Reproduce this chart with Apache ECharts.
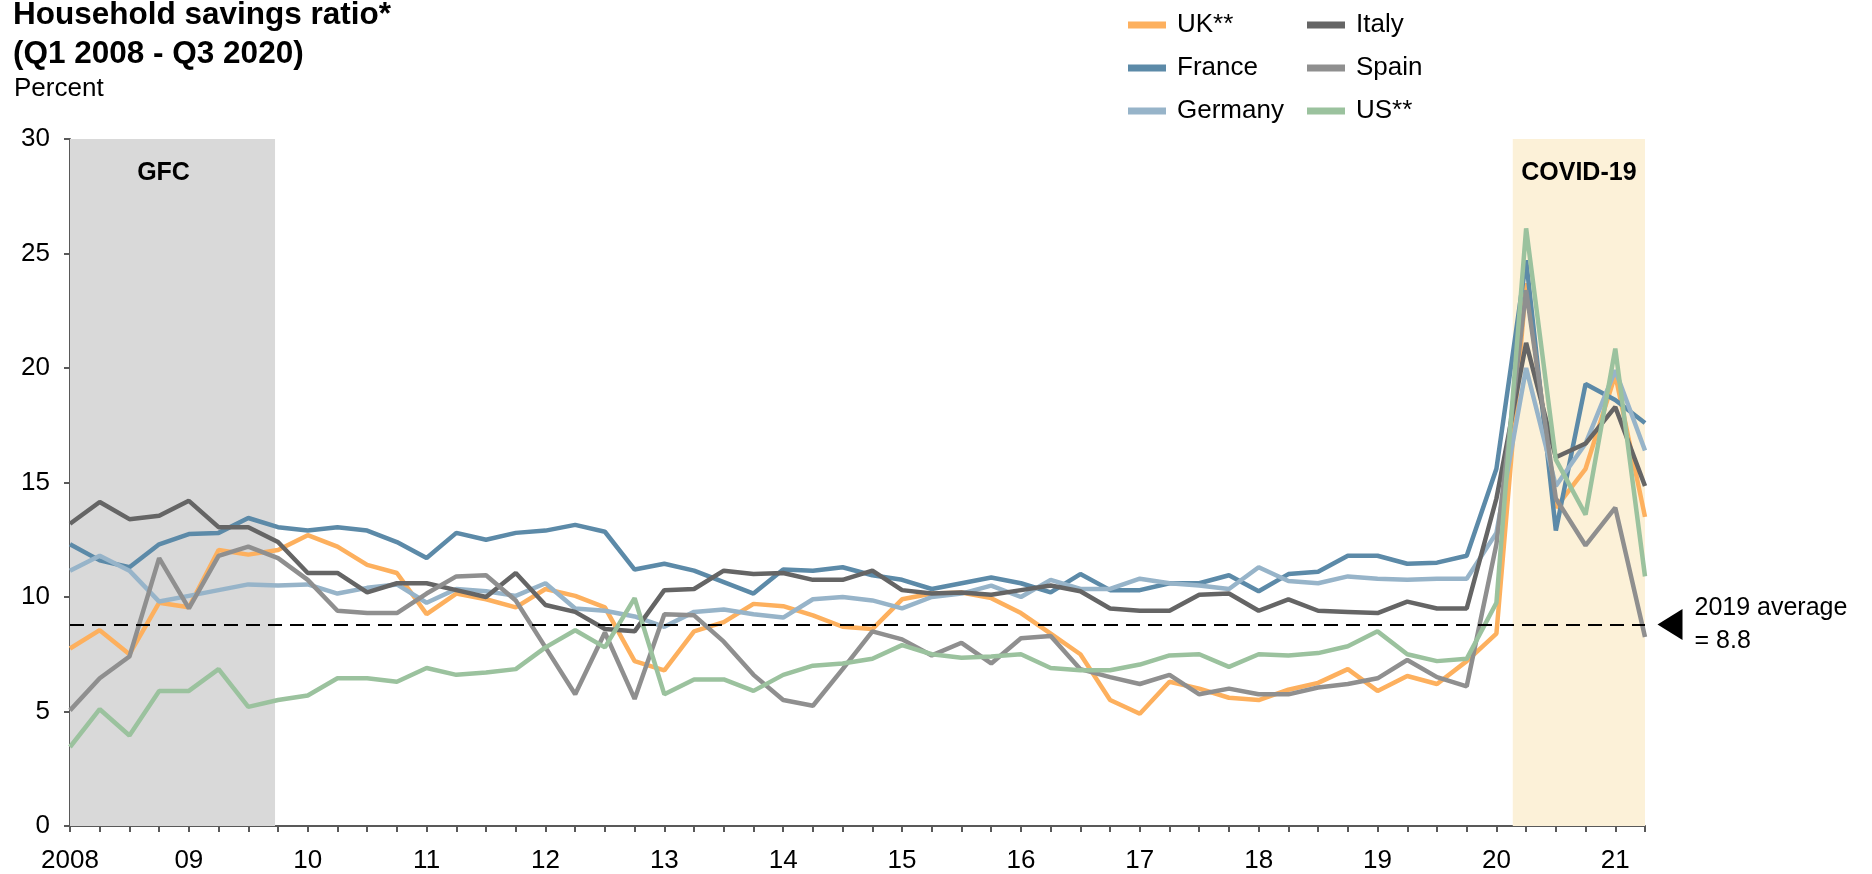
<!DOCTYPE html>
<html>
<head>
<meta charset="utf-8">
<script src="https://cdn.jsdelivr.net/npm/echarts@6/dist/echarts.min.js"></script>
<style>
  html, body { margin: 0; padding: 0; background: #fff; }
  #chart { width: 1872px; height: 874px; }
</style>
</head>
<body>
<div id="chart"></div>
<script>
// quarterly, Q1 2008 .. Q2 2021 (54 quarters)
const yearLabels = ['2008', '09', '10', '11', '12', '13', '14', '15', '16', '17', '18', '19', '20', '21'];

const uk = [7.75, 8.55, 7.5, 9.75, 9.55, 12.05, 11.85, 12.05, 12.7, 12.2, 11.4, 11.05, 9.25, 10.15, 9.9,
  9.55, 10.35, 10.05, 9.55, 7.2, 6.8, 8.5, 8.9, 9.7, 9.6, 9.2, 8.7, 8.6, 9.9, 10.15, 10.2, 9.95, 9.3,
  8.4, 7.5, 5.5, 4.9, 6.3, 6.0, 5.6, 5.5, 5.95, 6.25, 6.85, 5.9, 6.55, 6.2, 7.2, 8.4, 23.7, 13.9, 15.6, 19.7, 13.5];
const france = [12.3, 11.6, 11.3, 12.3, 12.75, 12.8, 13.45, 13.05, 12.9, 13.05, 12.9, 12.4, 11.7, 12.8, 12.5,
  12.8, 12.9, 13.15, 12.85, 11.2, 11.45, 11.15, 10.65, 10.15, 11.2, 11.15, 11.3, 10.95, 10.75, 10.35, 10.6,
  10.85, 10.6, 10.2, 11.0, 10.3, 10.3, 10.6, 10.6, 10.95, 10.25, 11.0, 11.1, 11.8, 11.8, 11.45, 11.5, 11.8,
  15.6, 24.7, 12.9, 19.3, 18.6, 17.6];
const germany = [11.15, 11.8, 11.15, 9.8, 10.05, 10.3, 10.55, 10.5, 10.55, 10.15, 10.4, 10.55, 9.75, 10.35, 10.25,
  10.05, 10.6, 9.5, 9.4, 9.15, 8.7, 9.35, 9.45, 9.25, 9.1, 9.9, 10.0, 9.85, 9.5, 10.0, 10.15, 10.5, 10.0,
  10.75, 10.35, 10.35, 10.8, 10.6, 10.5, 10.35, 11.3, 10.7, 10.6, 10.9, 10.8, 10.75, 10.8, 10.8, 12.8, 20.0,
  14.85, 16.7, 19.9, 16.4];
const italy = [13.2, 14.15, 13.4, 13.55, 14.2, 13.05, 13.05, 12.4, 11.05, 11.05, 10.2, 10.6, 10.6, 10.3, 10.0,
  11.05, 9.65, 9.35, 8.6, 8.5, 10.3, 10.35, 11.15, 11.0, 11.05, 10.75, 10.75, 11.15, 10.3, 10.15, 10.2, 10.1,
  10.3, 10.5, 10.25, 9.5, 9.4, 9.4, 10.1, 10.15, 9.4, 9.9, 9.4, 9.35, 9.3, 9.8, 9.5, 9.5, 14.3, 21.1, 16.1,
  16.7, 18.3, 14.85];
const spain = [5.05, 6.45, 7.4, 11.7, 9.5, 11.8, 12.2, 11.7, 10.75, 9.4, 9.3, 9.3, 10.15, 10.9, 10.95,
  9.85, 7.8, 5.75, 8.45, 5.55, 9.25, 9.2, 8.05, 6.6, 5.5, 5.25, 6.85, 8.5, 8.15, 7.45, 8.0, 7.1, 8.2, 8.3,
  6.85, 6.5, 6.2, 6.6, 5.75, 6.0, 5.75, 5.75, 6.05, 6.2, 6.45, 7.25, 6.5, 6.1, 12.3, 23.4, 14.3, 12.25, 13.9, 8.25];
const us = [3.45, 5.1, 3.95, 5.9, 5.9, 6.85, 5.2, 5.5, 5.7, 6.45, 6.45, 6.3, 6.9, 6.6, 6.7,
  6.85, 7.8, 8.55, 7.8, 9.95, 5.75, 6.4, 6.4, 5.9, 6.6, 7.0, 7.1, 7.3, 7.9, 7.5, 7.35, 7.4, 7.5, 6.9, 6.8,
  6.8, 7.05, 7.45, 7.5, 6.95, 7.5, 7.45, 7.55, 7.85, 8.5, 7.5, 7.2, 7.3, 9.75, 26.1, 16.0, 13.6, 20.85, 10.9];

const avg2019 = 8.8;
const gfcRange = [0, 6.9];       // shaded periods, in quarters from Q1 2008
const covidRange = [48.55, 53];

const names = ['UK**', 'France', 'Germany', 'Italy', 'Spain', 'US**'];
const colors = ['#FDB05E', '#5C8AA8', '#97B4C9', '#656565', '#8F8F8F', '#9BC29E'];
const values = [uk, france, germany, italy, spain, us];

const font = 'Liberation Sans, Arial, Helvetica, sans-serif';
const axisColor = '#595959';

let chart = echarts.init(document.getElementById('chart'));

let series = values.map((vals, k) => ({
  name: names[k],
  type: 'line',
  data: vals.map((v, i) => [i, v]),
  symbol: 'none',
  lineStyle: { width: 4.5, color: colors[k] },
  itemStyle: { color: colors[k] }
}));

// shading, average line and its note hang off the first series
series[0].markArea = {
  silent: true,
  label: { position: 'insideTop', distance: 22, color: '#000', fontSize: 25, fontWeight: 'bold', fontFamily: font },
  data: [
    [{ xAxis: gfcRange[0], name: 'GFC', itemStyle: { color: '#D9D9D9' }, label: { offset: [-9, 0] } }, { xAxis: gfcRange[1] }],
    [{ xAxis: covidRange[0], name: 'COVID-19', itemStyle: { color: '#FCF1D8' } }, { xAxis: covidRange[1] }]
  ]
};
series[0].markLine = {
  silent: true,
  symbol: 'none',
  label: { show: false },
  lineStyle: { color: '#000', width: 2, type: [14, 8] },
  data: [{ yAxis: avg2019 }]
};
series[0].markPoint = {
  silent: true,
  data: [{
    coord: [53, avg2019],
    symbol: 'path://M0,5 L10,0 L10,10 Z',
    symbolSize: [25, 31],
    symbolKeepAspect: false,
    symbolOffset: [25, 0],
    itemStyle: { color: '#000' },
    label: {
      show: true, position: 'right', distance: 12,
      formatter: '2019 average\n= ' + avg2019,
      color: '#000', fontSize: 25, lineHeight: 33, fontFamily: font
    }
  }]
};

chart.setOption({
  animation: false,
  textStyle: { fontFamily: font },
  title: [
    {
      text: 'Household savings ratio*\n(Q1 2008 - Q3 2020)',
      left: 13, top: -4, padding: 0,
      textStyle: { fontSize: 31.5, fontWeight: 'bold', lineHeight: 39, color: '#000', fontFamily: font }
    },
    {
      text: 'Percent',
      left: 14, top: 76, padding: 0,
      textStyle: { fontSize: 26, fontWeight: 'normal', lineHeight: 26, color: '#000', fontFamily: font }
    }
  ],
  legend: [
    {
      data: names.slice(0, 3), orient: 'vertical', left: 1128, top: 12, padding: 0,
      icon: 'rect', itemWidth: 38, itemHeight: 7, itemGap: 17, selectedMode: false,
      textStyle: { fontSize: 26, lineHeight: 26, color: '#000', padding: [0, 0, 0, 6], fontFamily: font }
    },
    {
      data: names.slice(3), orient: 'vertical', left: 1307, top: 12, padding: 0,
      icon: 'rect', itemWidth: 38, itemHeight: 7, itemGap: 17, selectedMode: false,
      textStyle: { fontSize: 26, lineHeight: 26, color: '#000', padding: [0, 0, 0, 6], fontFamily: font }
    }
  ],
  grid: { left: 70, right: 227, top: 139, bottom: 48, containLabel: false },
  xAxis: {
    type: 'value', min: 0, max: 53, interval: 1,
    axisLine: { lineStyle: { color: axisColor, width: 2 } },
    axisTick: { show: true, length: 6, lineStyle: { color: axisColor, width: 2 } },
    axisLabel: {
      fontSize: 26, color: '#000', margin: 22, fontFamily: font,
      formatter: v => (v % 4 === 0 ? yearLabels[v / 4] : '')
    },
    splitLine: { show: false }
  },
  yAxis: {
    type: 'value', min: 0, max: 30, interval: 5,
    axisLine: { show: true, lineStyle: { color: axisColor, width: 2 } },
    axisTick: { show: true, length: 6, lineStyle: { color: axisColor, width: 2 } },
    axisLabel: { fontSize: 26, color: '#000', margin: 20, fontFamily: font },
    splitLine: { show: false }
  },
  series: series
});
</script>
</body>
</html>
